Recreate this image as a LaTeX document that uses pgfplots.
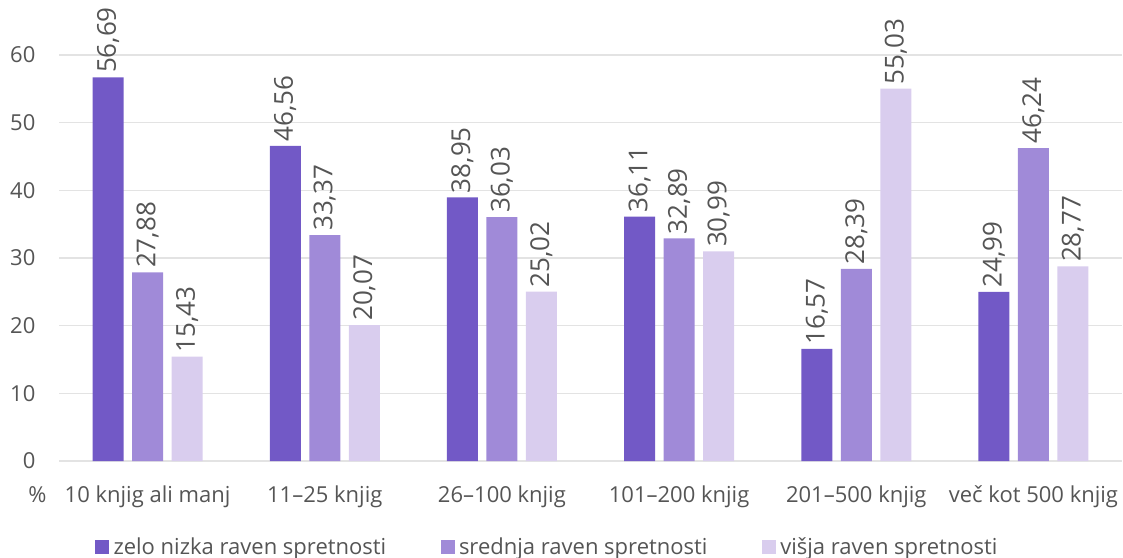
\documentclass[border=0pt]{standalone}
\usepackage{pgfplots}
\pgfplotsset{compat=1.18}
\usepackage{fontspec}
\setmainfont{Open Sans}
\definecolor{c1}{HTML}{7259C6}
\definecolor{c2}{HTML}{A08AD8}
\definecolor{c3}{HTML}{D9CDEE}
\definecolor{txt}{HTML}{555555}
\definecolor{grd}{HTML}{E3E3E3}
\begin{document}
\begin{tikzpicture}
\begin{axis}[
  scale only axis, width=531.5pt, height=203pt,
  ymin=0, ymax=60, xmin=-0.5, xmax=5.5,
  ybar, bar width=15.5pt,
  axis line style={draw=none},
  ytick={0,10,...,60}, xtick={0,...,5},
  xticklabels={10 knjig ali manj, 11--25 knjig, 26--100 knjig, 101--200 knjig, 201--500 knjig, več kot 500 knjig},
  major tick length=0pt,
  ymajorgrids, grid style={grd, line width=0.7pt},
  tick label style={font=\fontsize{11}{13}\selectfont, text=txt},
  /pgf/number format/assume math mode=true,
  yticklabel style={xshift=-8.3pt},
  xticklabel style={anchor=base, yshift=-20.5pt},
  clip=false,
  nodes near coords,
  nodes near coords style={rotate=90, anchor=west, inner sep=2pt, font=\fontsize{13}{15}\selectfont, text=txt,
     /pgf/number format/.cd, fixed, fixed zerofill, precision=2, use comma, assume math mode=true},
  legend style={at={(axis description cs:0.034,-0.183)}, anchor=north west, legend columns=3, draw=none,
     inner sep=0pt, outer sep=0pt,
     font=\fontsize{11}{13}\selectfont, text=txt,
     nodes={inner sep=1.2pt},
     /tikz/every odd column/.append style={column sep=1pt},
     /tikz/every even column/.append style={column sep=26pt}},
  legend image code/.code={\fill[#1] (0pt,-3.3pt) rectangle (7pt,3.7pt);},
]
\addplot[fill=c1, draw=none, bar shift=-19.75pt] coordinates {(0,56.69) (1,46.56) (2,38.95) (3,36.11) (4,16.57) (5,24.99)};
\addplot[fill=c2, draw=none, bar shift=0pt] coordinates {(0,27.88) (1,33.37) (2,36.03) (3,32.89) (4,28.39) (5,46.24)};
\addplot[fill=c3, draw=none, bar shift=19.75pt] coordinates {(0,15.43) (1,20.07) (2,25.02) (3,30.99) (4,55.03) (5,28.77)};
\legend{zelo nizka raven spretnosti, srednja raven spretnosti, višja raven spretnosti}
\node[anchor=base east, inner sep=0pt, font=\fontsize{11}{13}\selectfont, text=txt] at ([xshift=-6pt,yshift=-20.5pt]rel axis cs:0,0) {\%};
\coordinate (sw) at (rel axis cs:0,0);
\coordinate (ne) at (rel axis cs:1,1);
\end{axis}
\pgfresetboundingbox
\path ([shift={(-29.5pt,-48pt)}]sw) rectangle ([shift={(0.5pt,27.5pt)}]ne);
\end{tikzpicture}
\end{document}
